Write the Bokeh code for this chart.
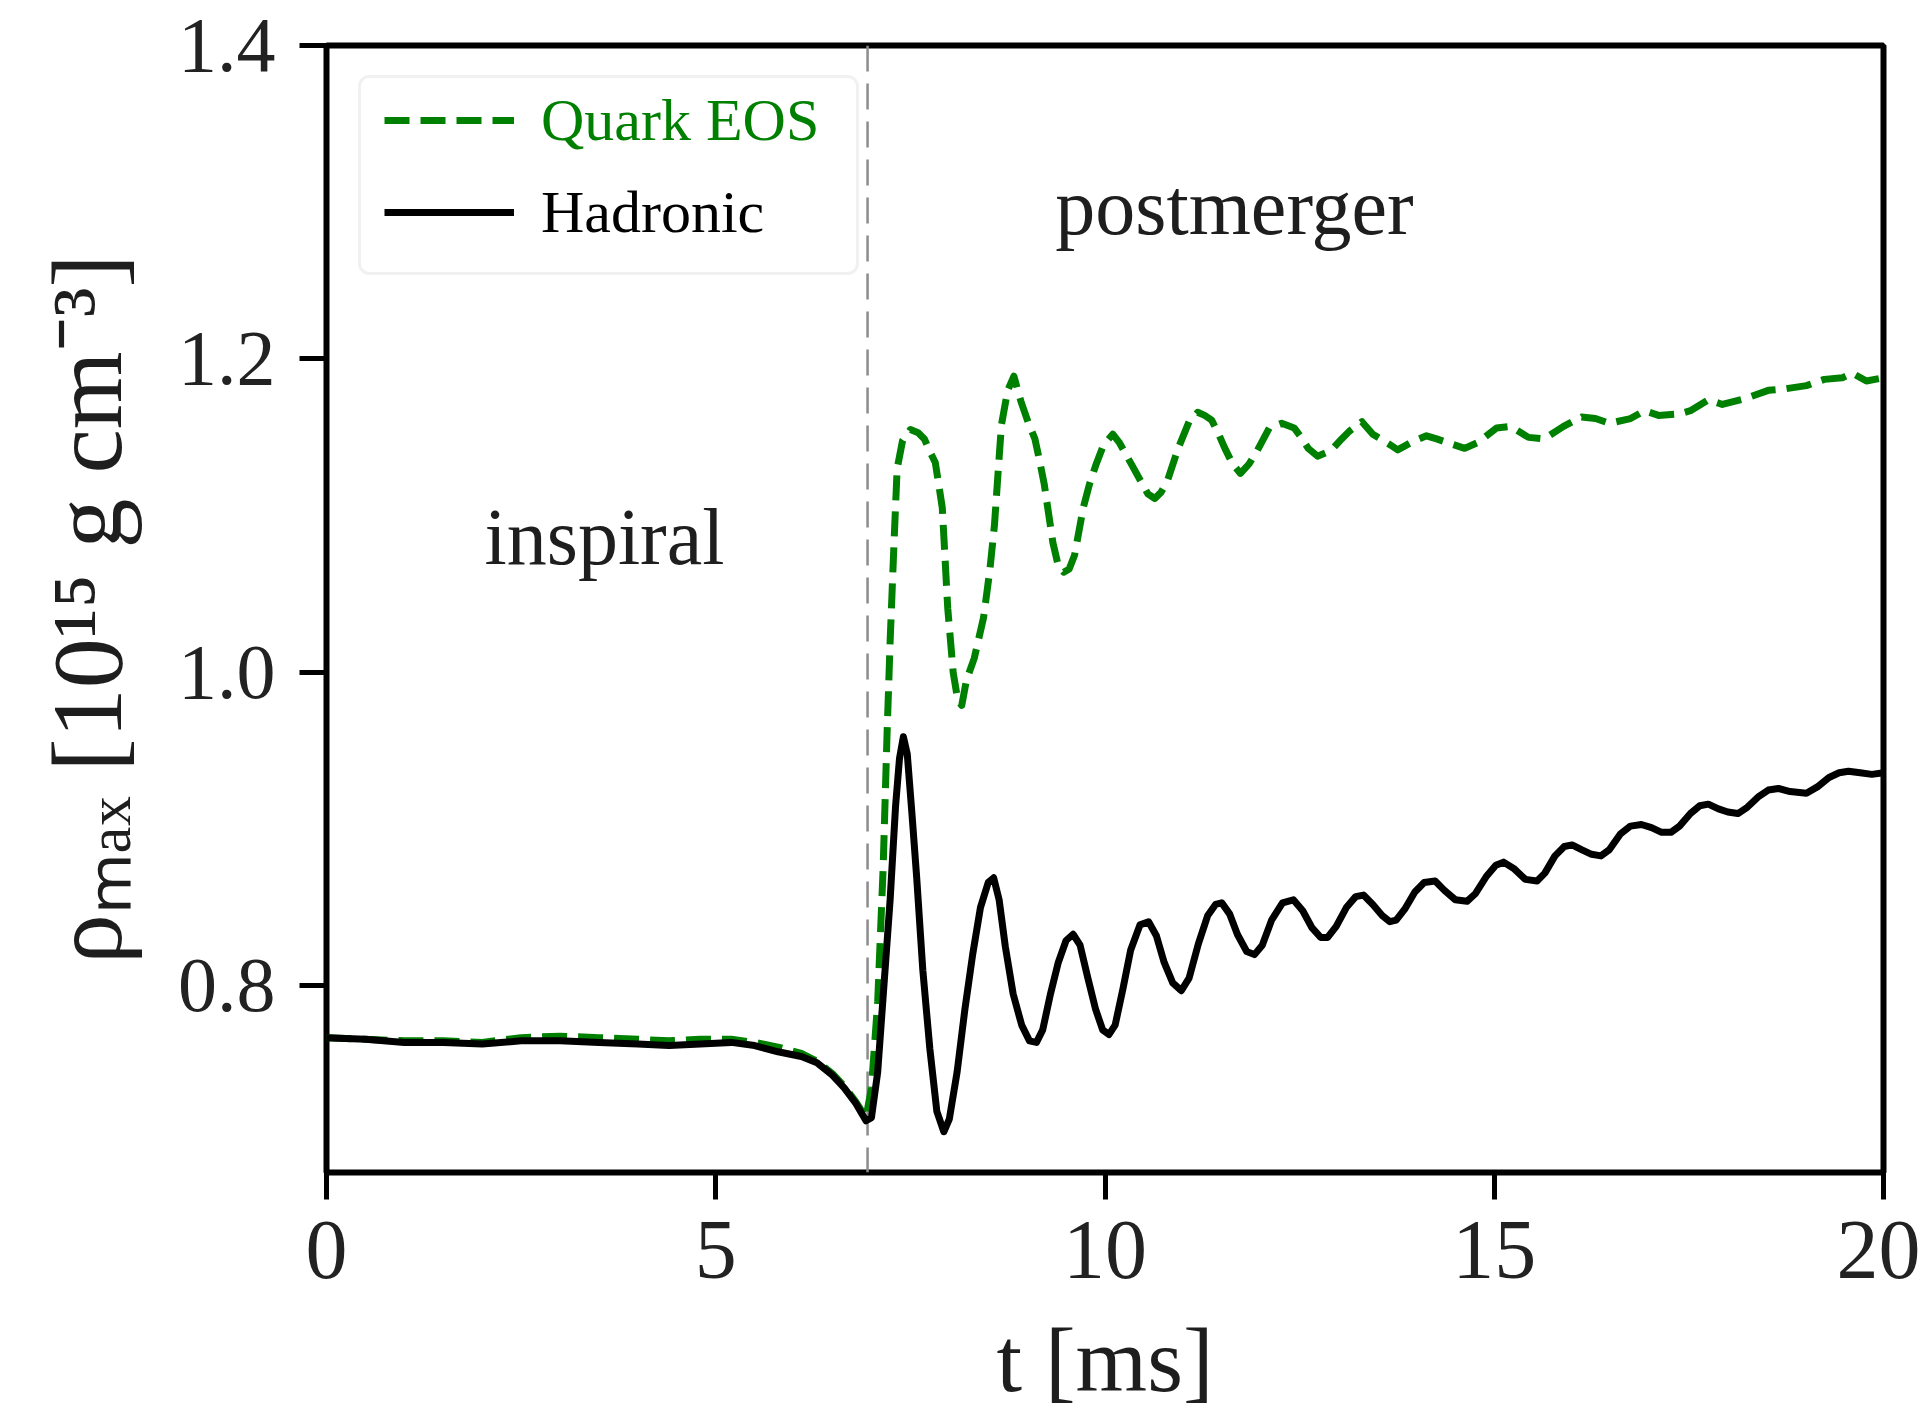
from bokeh.plotting import figure
from bokeh.models import (Range1d, FixedTicker, Span, Label, Legend, LegendItem,
                          BoxAnnotation)
from bokeh.embed import file_html
from bokeh.resources import INLINE

# ---------------- data ----------------
series_names = ["Quark EOS", "Hadronic"]

time_hadronic = [
    0.0, 0.5, 1.0, 1.5, 2.0, 2.5, 3.0, 3.5, 4.0, 4.4, 4.8, 5.2, 5.5, 5.8, 6.1, 6.3,
    6.5, 6.65, 6.8, 6.93, 7.0, 7.08, 7.16, 7.24, 7.31, 7.36, 7.41, 7.46, 7.52, 7.58,
    7.66, 7.75, 7.84, 7.93, 8.0, 8.1, 8.2, 8.3, 8.4, 8.5, 8.57, 8.64, 8.72, 8.82,
    8.93, 9.03, 9.12, 9.2, 9.3, 9.4, 9.5, 9.59, 9.68, 9.78, 9.88, 9.97, 10.05, 10.13,
    10.23, 10.33, 10.45, 10.56, 10.66, 10.76, 10.87, 10.98, 11.08, 11.2, 11.32, 11.42,
    11.5, 11.6, 11.7, 11.82, 11.92, 12.02, 12.14, 12.28, 12.42, 12.54, 12.66, 12.77,
    12.86, 12.97, 13.1, 13.22, 13.32, 13.44, 13.56, 13.66, 13.74, 13.85, 13.98, 14.1,
    14.24, 14.36, 14.5, 14.65, 14.76, 14.9, 15.02, 15.12, 15.25, 15.4, 15.55, 15.65,
    15.78, 15.9, 16.0, 16.12, 16.25, 16.37, 16.48, 16.62, 16.75, 16.89, 17.02, 17.15,
    17.27, 17.38, 17.52, 17.64, 17.75, 17.88, 18.0, 18.13, 18.25, 18.4, 18.52, 18.65,
    18.8, 19.01, 19.15, 19.3, 19.43, 19.55, 19.7, 19.85, 20.0]
rho_hadronic = [
    0.767, 0.766, 0.764, 0.764, 0.763, 0.765, 0.765, 0.764, 0.763, 0.762, 0.763, 0.764,
    0.762, 0.758, 0.755, 0.751, 0.743, 0.735, 0.725, 0.714, 0.716, 0.745, 0.800, 0.855,
    0.915, 0.945, 0.959, 0.948, 0.910, 0.870, 0.810, 0.760, 0.720, 0.707, 0.715, 0.745,
    0.785, 0.820, 0.850, 0.866, 0.869, 0.855, 0.825, 0.795, 0.775, 0.765, 0.764, 0.772,
    0.795, 0.815, 0.829, 0.833, 0.826, 0.805, 0.785, 0.772, 0.769, 0.775, 0.798, 0.823,
    0.839, 0.841, 0.832, 0.815, 0.802, 0.797, 0.805, 0.827, 0.845, 0.852, 0.853, 0.846,
    0.833, 0.822, 0.820, 0.826, 0.842, 0.853, 0.855, 0.848, 0.837, 0.831, 0.831, 0.838,
    0.850, 0.857, 0.858, 0.852, 0.845, 0.841, 0.842, 0.849, 0.860, 0.866, 0.867, 0.861,
    0.855, 0.854, 0.859, 0.870, 0.877, 0.879, 0.875, 0.868, 0.867, 0.872, 0.883, 0.889,
    0.890, 0.887, 0.884, 0.883, 0.887, 0.897, 0.902, 0.903, 0.901, 0.898, 0.898, 0.902,
    0.910, 0.915, 0.916, 0.913, 0.911, 0.910, 0.914, 0.921, 0.925, 0.926, 0.924, 0.923,
    0.927, 0.933, 0.936, 0.937, 0.936, 0.935, 0.936]

time_quark = [
    0.0, 0.5, 1.0, 1.5, 2.0, 2.5, 3.0, 3.5, 4.0, 4.4, 4.8, 5.2, 5.5, 5.8, 6.1, 6.3,
    6.5, 6.65, 6.8, 6.93, 7.0, 7.08, 7.15, 7.2, 7.24, 7.29, 7.33, 7.4, 7.5, 7.6, 7.68,
    7.76, 7.82, 7.87, 7.91, 7.98, 8.05, 8.11, 8.16, 8.22, 8.32, 8.44, 8.52, 8.58, 8.63,
    8.67, 8.75, 8.83, 8.92, 9.01, 9.1, 9.16, 9.22, 9.33, 9.4, 9.47, 9.54, 9.61, 9.72,
    9.8, 9.88, 9.98, 10.1, 10.18, 10.27, 10.36, 10.46, 10.55, 10.64, 10.72, 10.8,
    10.94, 11.08, 11.19, 11.28, 11.37, 11.46, 11.54, 11.64, 11.74, 11.85, 11.95, 12.11,
    12.27, 12.43, 12.52, 12.61, 12.73, 12.83, 12.93, 13.04, 13.14, 13.3, 13.44, 13.54,
    13.67, 13.76, 13.94, 14.13, 14.26, 14.44, 14.62, 14.8, 15.03, 15.21, 15.44, 15.64,
    15.89, 16.12, 16.3, 16.48, 16.75, 16.93, 17.11, 17.38, 17.52, 17.75, 17.93, 18.24,
    18.52, 18.74, 19.01, 19.24, 19.47, 19.6, 19.78, 20.0]
rho_quark = [
    0.767, 0.766, 0.765, 0.765, 0.764, 0.767, 0.768, 0.767, 0.766, 0.765, 0.766, 0.766,
    0.764, 0.761, 0.757, 0.752, 0.744, 0.736, 0.726, 0.716, 0.735, 0.790, 0.875, 0.960,
    1.020, 1.083, 1.130, 1.148, 1.155, 1.153, 1.149, 1.140, 1.134, 1.118, 1.105, 1.041,
    1.000, 0.982, 0.979, 0.995, 1.009, 1.035, 1.065, 1.094, 1.130, 1.158, 1.180, 1.189,
    1.173, 1.160, 1.149, 1.135, 1.120, 1.083, 1.068, 1.064, 1.066, 1.075, 1.105, 1.120,
    1.132, 1.145, 1.152, 1.147, 1.139, 1.131, 1.122, 1.114, 1.111, 1.115, 1.122, 1.143,
    1.160, 1.166, 1.164, 1.161, 1.152, 1.143, 1.133, 1.127, 1.133, 1.141, 1.156, 1.159,
    1.156, 1.150, 1.143, 1.138, 1.140, 1.143, 1.149, 1.154, 1.160, 1.152, 1.149, 1.145,
    1.142, 1.147, 1.151, 1.149, 1.146, 1.143, 1.147, 1.156, 1.157, 1.150, 1.149, 1.157,
    1.163, 1.162, 1.159, 1.162, 1.167, 1.164, 1.165, 1.167, 1.174, 1.171, 1.175, 1.180,
    1.181, 1.183, 1.187, 1.188, 1.191, 1.186, 1.188]

x_ticks = [0, 5, 10, 15, 20]
y_ticks = [0.8, 1.0, 1.2, 1.4]
y_tick_labels = ["0.8", "1.0", "1.2", "1.4"]
merger_time = 6.95
region_labels = ["inspiral", "postmerger"]
x_label = "t [ms]"
y_label = "ρₘₐₓ [10¹⁵ g cm⁻³]"

# ---------------- layout ----------------
X0, X1 = 0.0, 20.0
Y0, Y1 = 0.681, 1.4
W, H = 1920, 1420
FL, FT, FW, FH = 326, 45, 1557, 1127   # frame position inside the canvas
FONT = "Liberation Serif"
GREEN = "#008000"
INK = "#1e1e1e"


def px(xp, yp):
    """canvas pixel -> data coordinates (layout helper for annotations)"""
    return (X0 + (xp - FL) / FW * (X1 - X0), Y1 - (yp - FT) / FH * (Y1 - Y0))


p = figure(width=W, height=H, output_backend="svg", toolbar_location=None,
           x_range=Range1d(X0, X1), y_range=Range1d(Y0, Y1),
           min_border_left=FL, min_border_top=FT,
           min_border_right=W - FL - FW, min_border_bottom=H - FT - FH)
p.background_fill_color = "white"
p.border_fill_color = "white"
p.grid.visible = False
p.outline_line_color = "black"
p.outline_line_width = 6

for ax in (p.xaxis[0], p.yaxis[0]):
    ax.axis_line_color = None
    ax.major_tick_line_color = "black"
    ax.major_tick_line_width = 5
    ax.major_tick_out = 27
    ax.major_tick_in = 0
    ax.minor_tick_line_color = None
    ax.major_label_text_font = FONT
    ax.major_label_text_color = "#222222"
    ax.axis_label_text_font = FONT
    ax.axis_label_text_font_style = "normal"
    ax.axis_label_text_color = INK

p.xaxis.ticker = FixedTicker(ticks=x_ticks)
p.xaxis.major_label_text_font_size = "84px"
p.xaxis.major_label_standoff = 22
p.xaxis.axis_label = x_label
p.xaxis.axis_label_text_font_size = "92px"
p.xaxis.axis_label_standoff = 28

p.yaxis.ticker = FixedTicker(ticks=y_ticks)
p.yaxis.major_label_overrides = {t: s for t, s in zip(y_ticks, y_tick_labels)}
p.yaxis.major_label_text_font_size = "78px"
p.yaxis.major_label_standoff = 24
p.yaxis.axis_label = y_label
p.yaxis.axis_label_text_font_size = "100px"
p.yaxis.axis_label_standoff = 32

# merger marker
p.add_layout(Span(location=merger_time, dimension="height", line_color="#8c8c8c",
                  line_width=2.5, line_dash="26 12", level="underlay"))

r_q = p.line(time_quark, rho_quark, line_color=GREEN, line_width=7,
             line_dash="25 11", line_join="round")
r_h = p.line(time_hadronic, rho_hadronic, line_color="black", line_width=7,
             line_join="round")

# legend frame
bl, bt = px(359, 76)
br, bb = px(857, 273)
p.add_layout(BoxAnnotation(left=bl, right=br, top=bt, bottom=bb,
                           fill_color="white", fill_alpha=0.85,
                           line_color="#d0d0d0", line_width=3, border_radius=10))

for name, rend, color, top_px in [(series_names[0], r_q, GREEN, 85),
                                  (series_names[1], r_h, "black", 177)]:
    lg = Legend(items=[LegendItem(label=name, renderers=[rend])],
                location=(58, FH - (top_px - FT) - 70),
                margin=0, padding=0, glyph_width=130, glyph_height=70,
                label_height=70, label_standoff=27, label_text_font=FONT,
                label_text_font_size="60px", label_text_color=color,
                border_line_color=None, background_fill_alpha=0)
    p.add_layout(lg)

# region annotations
for txt, xp, yp in [(region_labels[0], 604, 536), (region_labels[1], 1234, 206)]:
    tx, ty = px(xp, yp)
    p.add_layout(Label(x=tx, y=ty, text=txt, text_font=FONT,
                       text_font_size="80px", text_color=INK,
                       text_align="center", text_baseline="middle"))

open("out.html", "w").write(file_html(p, INLINE))
